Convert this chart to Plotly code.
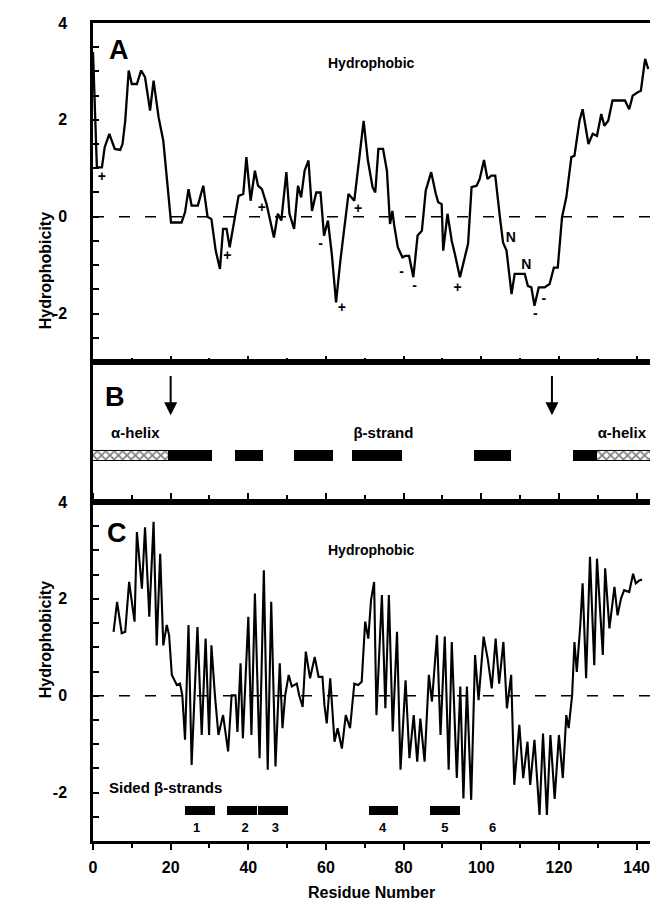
import plotly.graph_objects as go
import numpy as np

# ---------------- data ----------------
# Panel A: smoothed hydrophobicity profile
a_res = [0.0, 1.0, 2.3, 3.0, 4.2, 5.6, 7.0, 7.6, 8.3, 9.2, 10.0, 11.3, 12.4, 13.4, 14.7, 15.6, 16.9, 18.1,
         19.0, 20.1, 22.8, 23.7, 24.6, 25.4, 27.0, 28.4, 29.5, 30.5, 31.6, 32.7, 33.5, 34.4, 35.2, 36.5,
         37.5, 38.7, 39.5, 40.6, 41.7, 42.5, 43.5, 44.7, 46.6, 47.6, 48.5, 49.8, 50.6, 51.8, 52.8, 53.6,
         54.5, 55.5, 56.4, 57.5, 58.6, 59.5, 60.5, 61.5, 62.6, 63.7, 64.8, 65.8, 67.3, 68.9, 69.7, 70.8,
         72.0, 72.7, 73.5, 74.7, 75.7, 76.5, 77.1, 77.6, 78.5, 79.7, 80.4, 81.4, 82.5, 83.6, 84.7, 85.7,
         87.1, 88.3, 88.9, 89.8, 90.2, 91.3, 92.4, 93.2, 94.5, 96.6, 97.5, 98.8, 99.6, 100.7, 101.6, 102.6,
         103.6, 104.8, 105.6, 106.5, 107.8, 108.6, 109.9, 111.2, 112.0, 112.9, 113.7, 114.8, 116.3, 117.6,
         118.7, 119.7, 120.8, 121.9, 123.2, 124.0, 125.3, 126.1, 127.6, 128.7, 129.8, 130.9, 131.7, 132.7,
         133.8, 135.6, 137.0, 138.1, 139.0, 140.3, 141.1, 142.2, 143.0]
a_hyd = [3.40, 1.02, 1.02, 1.43, 1.71, 1.40, 1.38, 1.50, 1.98, 3.02, 2.74, 2.74, 3.02, 2.88, 2.19, 2.81, 2.05, 1.57,
         0.81, -0.12, -0.12, 0.09, 0.57, 0.23, 0.23, 0.64, 0.00, -0.05, -0.70, -1.08, -0.25, -0.25, -0.63, 0.00,
         0.43, 0.47, 1.23, 0.33, 0.95, 0.64, 0.57, 0.26, -0.43, 0.06, -0.08, 0.92, 0.06, -0.25, 0.64, 0.40,
         0.95, 1.16, 0.12, 0.50, 0.50, -0.39, -0.08, -0.77, -1.77, -0.91, -0.15, 0.47, 0.33, 1.36, 1.98, 1.16,
         0.61, 0.50, 1.40, 1.40, 0.95, -0.15, 0.12, -0.19, -0.63, -0.84, -0.81, -0.81, -1.25, -0.39, -0.29, 0.54,
         0.92, 0.47, 0.30, 0.26, -0.70, 0.06, -0.50, -0.77, -1.25, -0.56, 0.61, 0.64, 0.78, 1.17, 0.78, 0.85,
         0.85, -0.01, -0.53, -0.70, -1.60, -1.18, -1.18, -1.18, -1.43, -1.46, -1.84, -1.46, -1.46, -1.39,
         -1.05, -1.05, -0.01, 0.40, 1.23, 1.26, 1.98, 2.22, 1.50, 1.71, 1.67, 2.12, 1.88, 1.98,
         2.40, 2.40, 2.40, 2.22, 2.50, 2.57, 2.60, 3.26, 3.05]

# Panel A charge / residue markers
a_mark_text = ["+", "+", "+", "-", "+", "+", "-", "-", "-", "+", "N", "N", "-", "-"]
a_mark_res = [2.3, 34.6, 43.5, 58.6, 64.1, 68.3, 76.7, 79.5, 82.8, 93.9, 107.6, 111.6, 116.1, 113.9]
a_mark_hyd = [0.80, -0.83, 0.17, -0.58, -1.89, 0.15, 0.02, -1.16, -1.45, -1.49, -0.46, -1.01, -1.72, -2.01]

# Panel B: secondary structure
helix_start = [0.0, 129.7]
helix_end = [20.0, 145.0]
strand_start = [19.4, 36.6, 51.7, 66.7, 98.0, 123.5]
strand_end = [30.7, 43.8, 61.7, 79.7, 107.6, 129.7]
arrow_res = [20.0, 118.2]
b_labels = ["\u03b1-helix", "\u03b2-strand", "\u03b1-helix"]
b_label_res = [10.9, 74.8, 136.2]

# Panel C: per-residue hydrophobic moment profile
c_res = [5.3, 6.2, 7.4, 8.3, 9.3, 10.0, 10.7, 11.3, 12.6, 13.4, 14.5, 15.6, 16.4, 17.3, 18.1, 19.0, 19.6,
         20.3, 21.6, 22.4, 23.0, 23.7, 24.6, 25.4, 26.9, 28.0, 29.0, 29.9, 30.5, 31.4, 32.3, 33.5, 34.8,
         35.7, 36.7, 37.2, 38.0, 38.6, 40.0, 40.8, 41.7, 42.9, 44.0, 45.0, 45.9, 47.0, 48.1, 48.8, 49.5,
         50.4, 51.2, 52.5, 53.1, 54.0, 54.8, 55.9, 57.1, 58.1, 59.1, 59.6, 60.2, 61.1, 62.2, 63.0, 64.1,
         65.1, 66.2, 67.3, 68.3, 69.2, 70.1, 70.9, 71.6, 72.4, 73.0, 74.4, 75.3, 76.2, 77.2, 78.3, 79.2,
         80.5, 81.5, 82.6, 83.5, 84.3, 85.4, 86.5, 87.3, 88.6, 89.5, 90.6, 91.6, 92.4, 93.7, 94.6, 95.4,
         96.3, 97.4, 98.4, 99.3, 100.6, 101.7, 102.7, 103.7, 104.6, 105.7, 106.6, 107.7, 108.5, 109.8,
         110.8, 111.9, 112.6, 113.7, 115.0, 115.9, 116.9, 117.8, 118.9, 120.0, 121.0, 121.9, 122.5, 123.4,
         124.0, 124.6, 125.5, 126.1, 127.0, 128.0, 129.1, 129.8, 131.3, 131.9, 133.0, 134.3, 135.1, 136.0,
         136.8, 138.1, 139.1, 139.8, 140.7, 141.4]
c_hyd = [1.32, 1.94, 1.29, 1.32, 2.35, 1.94, 1.53, 3.38, 2.21, 3.48, 1.63, 3.59, 1.04, 2.93, 1.04, 1.46, 1.25,
         0.43, 0.22, 0.25, 0.01, -0.91, 1.46, -1.43, 1.42, -0.81, 1.18, -0.81, 1.04, 0.01, -0.81, -0.40, -1.15,
         0.01, 0.01, -0.75, 0.67, -0.88, 1.63, -0.81, 2.11, -1.29, 2.59, -1.53, 1.94, -1.46, 0.67, -0.67, 0.01,
         0.43, 0.19, 0.25, 0.01, -0.23, 0.91, 0.36, 0.80, 0.39, 0.39, -0.19, -0.57, 0.36, -0.95, -0.67, -1.09,
         -0.40, -0.67, 0.25, 0.22, 0.29, 1.53, 1.18, 1.97, 2.35, -0.40, 2.08, -0.26, 2.08, -0.74, 1.32, -1.53,
         0.32, -1.29, -0.40, -1.36, -0.47, -1.36, 0.43, -0.12, 1.25, -0.81, 1.22, -1.53, 1.11, -1.70, 0.19, -2.12,
         0.19, -2.15, 0.84, -0.09, 1.22, 0.74, 0.15, 1.18, 0.25, 1.11, -0.26, 0.43, -1.84, -0.60,
         -1.70, -0.95, -1.84, -0.91, -2.46, -0.78, -2.46, -0.81, -2.13, -0.81, -1.70, -0.40, -0.67, 0.01,
         1.11, 0.49, 1.46, 2.32, 0.36, 2.87, 0.63, 2.83, 0.84, 2.63, 1.39, 2.25, 1.66, 2.01,
         2.18, 2.14, 2.52, 2.32, 2.38, 2.40]

# Panel C: sided beta-strands
sided_start = [23.8, 34.5, 42.4, 71.1, 86.9]
sided_end = [31.3, 42.2, 50.2, 78.5, 94.6]
sided_num = ["1", "2", "3", "4", "5", "6"]
sided_num_res = [26.7, 39.2, 47.0, 74.6, 90.6, 102.9]

x_ticks = [0, 20, 40, 60, 80, 100, 120, 140]
y_tickvals = list(np.arange(-3, 4.01, 0.5))
y_ticktext = [("-2" if v == -2 else str(int(v))) if v in (-2, 0, 2, 4) else "" for v in y_tickvals]

# ---------------- figure ----------------
FONT = "Liberation Sans, Arial, Helvetica, sans-serif"
fig = go.Figure()

line_style = dict(color="black", width=2.3)
dash_style = dict(color="black", width=1.6, dash="11px,15px")

# A
fig.add_trace(go.Scatter(x=[0, 145], y=[0, 0], mode="lines", line=dash_style, xaxis="x", yaxis="y", hoverinfo="skip"))
fig.add_trace(go.Scatter(x=a_res, y=a_hyd, mode="lines", line=line_style, xaxis="x", yaxis="y"))
fig.add_trace(go.Scatter(x=a_mark_res, y=a_mark_hyd, mode="text", text=a_mark_text,
                         textfont=dict(family=FONT, size=14, color="black", weight="bold"),
                         xaxis="x", yaxis="y"))

# B
fig.add_trace(go.Bar(y=[0.33] * len(helix_start), base=helix_start,
                     x=[e - s for s, e in zip(helix_start, helix_end)], orientation="h", width=0.075,
                     marker=dict(color="white", line=dict(color="black", width=1),
                                 pattern=dict(shape="x", fgcolor="black", bgcolor="white", size=6, solidity=0.5)),
                     xaxis="x2", yaxis="y2"))
fig.add_trace(go.Bar(y=[0.33] * len(strand_start), base=strand_start,
                     x=[e - s for s, e in zip(strand_start, strand_end)], orientation="h", width=0.08,
                     marker=dict(color="black", line=dict(color="black", width=0)),
                     xaxis="x2", yaxis="y2"))
fig.add_trace(go.Scatter(x=b_label_res, y=[0.485] * 3, mode="text", text=b_labels,
                         textfont=dict(family=FONT, size=15, color="black", weight="bold"),
                         xaxis="x2", yaxis="y2"))

# C
fig.add_trace(go.Scatter(x=[0, 145], y=[0, 0], mode="lines", line=dash_style, xaxis="x3", yaxis="y3", hoverinfo="skip"))
fig.add_trace(go.Scatter(x=c_res, y=c_hyd, mode="lines", line=dict(color="black", width=2.1), xaxis="x3", yaxis="y3"))
fig.add_trace(go.Bar(y=[-2.37] * len(sided_start), base=sided_start,
                     x=[e - s for s, e in zip(sided_start, sided_end)], orientation="h", width=0.19,
                     marker=dict(color="black", line=dict(color="black", width=0)),
                     xaxis="x3", yaxis="y3"))
fig.add_trace(go.Scatter(x=sided_num_res, y=[-2.74] * len(sided_num), mode="text", text=sided_num,
                         textfont=dict(family=FONT, size=13, color="black", weight="bold"),
                         xaxis="x3", yaxis="y3"))

LW = 2.5
common_x = dict(range=[0, 145], showgrid=False, zeroline=False, showline=True, linewidth=LW, linecolor="black")
common_y = dict(range=[-3, 4], showgrid=False, zeroline=False, showline=True, linewidth=LW, linecolor="black",
                tickmode="array", tickvals=y_tickvals, ticktext=y_ticktext, ticks="inside", ticklen=6,
                tickwidth=2, tickcolor="black", mirror="ticks", ticklabelstandoff=20,
                tickfont=dict(family=FONT, size=16, color="black", weight="bold"))

annotations = []
def label(text, x, y, xref, yref, size, **kw):
    annotations.append(dict(text=text, x=x, y=y, xref=xref, yref=yref, showarrow=False,
                            font=dict(family=FONT, size=size, color="black", weight="bold"), **kw))

label("A", 6.7, 3.45, "x", "y", 27)
label("Hydrophobic", 71.6, 3.18, "x", "y", 14)
label("B", 5.6, 0.75, "x2", "y2", 27)
label("C", 6.2, 3.36, "x3", "y3", 27)
label("Hydrophobic", 71.6, 3.01, "x3", "y3", 14)
label("Sided \u03b2-strands", 3.6, -1.9, "x3", "y3", 15, xanchor="left")
label("Hydrophobicity", -0.1025, 0.7714, "paper", "paper", 16, textangle=-90)
label("Hydrophobicity", -0.1025, 0.1724, "paper", "paper", 16, textangle=-90)
label("Residue Number", 0.495, -0.0758, "paper", "paper", 16)

for xr in arrow_res:
    annotations.append(dict(x=xr, y=0.62, xref="x2", yref="y2", ax=xr, ay=0.91, axref="x2", ayref="y2",
                            showarrow=True, arrowhead=2, arrowsize=1.3, arrowwidth=2, arrowcolor="black", text=""))

fig.update_layout(
    width=658, height=909,
    margin=dict(l=85, r=7, t=15, b=76),
    paper_bgcolor="white", plot_bgcolor="white",
    showlegend=False,
    barmode="overlay",
    font=dict(family=FONT, color="black", weight="bold"),
    xaxis=dict(domain=[0, 1], anchor="y", **common_x, tickmode="array", tickvals=x_ticks,
               showticklabels=False, ticks="inside", ticklen=6, tickwidth=2, tickcolor="black", mirror=True,
               minor=dict(dtick=10, tick0=0, ticks="inside", ticklen=4, tickwidth=2, tickcolor="black")),
    yaxis=dict(domain=[0.5856, 1], anchor="x", **common_y),
    xaxis2=dict(domain=[0, 1], anchor="y2", **common_x, showticklabels=False, ticks="", mirror=True),
    yaxis2=dict(domain=[0.4144, 0.5856], anchor="x2", range=[0, 1], showgrid=False, zeroline=False,
                showline=True, linewidth=LW, linecolor="black", showticklabels=False, ticks="", mirror=True),
    xaxis3=dict(domain=[0, 1], anchor="y3", **common_x, tickmode="array", tickvals=x_ticks,
                ticktext=[str(v) for v in x_ticks], ticks="outside", ticklen=6, tickwidth=2, tickcolor="black",
                mirror="ticks", ticklabelstandoff=4,
                tickfont=dict(family=FONT, size=16, color="black", weight="bold"),
                minor=dict(dtick=10, tick0=0, ticks="outside", ticklen=4, tickwidth=2, tickcolor="black")),
    yaxis3=dict(domain=[0, 0.4144], anchor="x3", **common_y),
    annotations=annotations,
    bargap=0,
)

fig.write_html("out.html")
